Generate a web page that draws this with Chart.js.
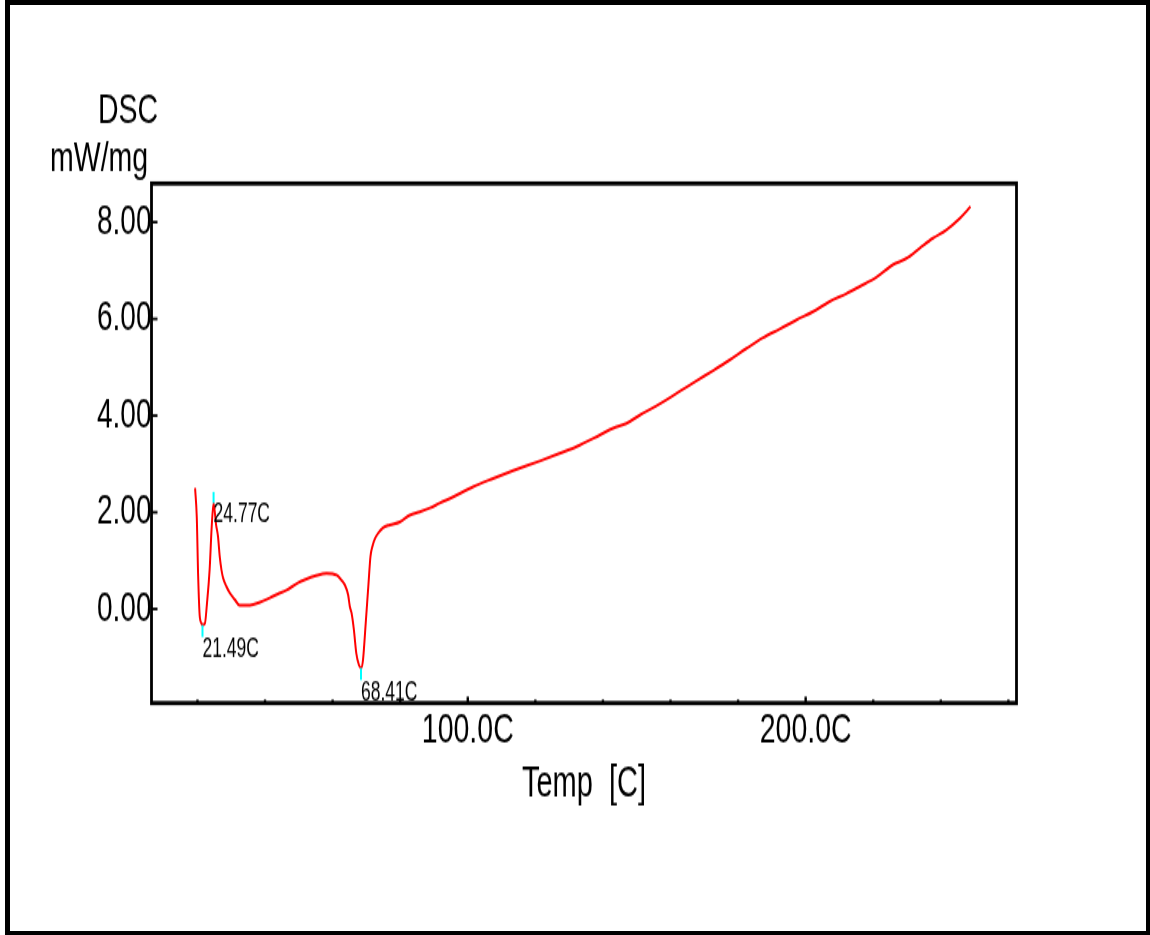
<!DOCTYPE html>
<html>
<head>
<meta charset="utf-8">
<title>DSC</title>
<script src="https://cdn.jsdelivr.net/npm/chart.js@4.4.1/dist/chart.umd.min.js"></script>
<style>
    html, body { margin: 0; padding: 0; background: #fff; overflow: hidden; }
    .moldura {
        position: absolute; left: 5px; top: 0; width: 1145px; height: 935px;
        box-sizing: border-box; border-style: solid; border-color: #000;
        border-width: 5px 4px 4px 5px;
    }
    /* a imagem original é esticada na vertical */
    #graficoDSC { position: absolute; left: 0; top: 0; transform: scaleY(1.5); transform-origin: 0 0; }
</style>
</head>
<body>
<div class="moldura"></div>
<canvas id="graficoDSC" width="1150" height="623"></canvas>
<script>
// ========== DADOS ==========

// Temperatura (C)
const temps = [19.3, 19.8, 20.2, 20.7, 21.2, 21.49, 22.2, 22.8, 23.6, 24.2, 24.77, 25.5, 26.1, 26.6, 27.1,
    27.6, 28.6, 29.6, 31.1, 32.5, 35.5, 38.5, 41.4, 43.8, 46.4, 49.7, 52.3, 54.7, 58.2, 61.2, 62.6, 63.6,
    64.6, 65.1, 65.6, 66.3, 67.0, 67.8, 68.41, 69.0, 69.8, 70.6, 71.2, 71.8, 72.5, 73.5, 74.9, 76.9, 79.9,
    82.8, 85.8, 88.8, 91.7, 95.7, 101.6, 107.5, 113.4, 121.3, 127.2, 132.2, 139.1, 143.0, 147.0, 150.9,
    155.8, 162.7, 167.7, 172.6, 177.5, 182.5, 187.4, 192.3, 197.3, 202.2, 207.1, 212.0, 216.0, 220.9,
    225.8, 229.8, 233.7, 237.7, 241.6, 245.6, 248.8];

// DSC (mW/mg)
const dsc = [2.50, 1.90, 0.70, -0.17, -0.30, -0.33, -0.30, 0.10, 0.81, 1.68, 2.19, 1.75, 1.49, 1.08, 0.81,
    0.64, 0.46, 0.33, 0.19, 0.08, 0.08, 0.14, 0.23, 0.31, 0.39, 0.54, 0.62, 0.68, 0.74, 0.70, 0.60, 0.50,
    0.29, 0.05, -0.08, -0.43, -0.91, -1.16, -1.22, -1.05, -0.29, 0.50, 1.08, 1.30, 1.45, 1.57, 1.68, 1.74,
    1.80, 1.94, 2.01, 2.09, 2.19, 2.32, 2.53, 2.70, 2.86, 3.06, 3.22, 3.36, 3.60, 3.74, 3.84, 4.01, 4.20,
    4.50, 4.72, 4.93, 5.15, 5.39, 5.61, 5.79, 5.98, 6.15, 6.36, 6.52, 6.67, 6.86, 7.12, 7.25, 7.46, 7.67,
    7.84, 8.08, 8.32];

// Picos marcados
const picoTemps = [21.49, 24.77, 68.41];
const picoValores = [-0.33, 2.19, -1.22];
const picoTipos = ['min', 'max', 'min'];
const picoRotulos = ['21.49C', '24.77C', '68.41C'];

// Eixos
const xTicks = [20, 40, 60, 80, 100, 120, 140, 160, 180, 200, 220, 240, 260];
const xRotulos = [100, 200];
const yTicks = [0, 2, 4, 6, 8];

const FONTE = '"Liberation Sans", Arial, sans-serif';

// ========== PLUGIN: moldura, ticks internos, picos e títulos ==========

const molduraDSC = {
    id: 'molduraDSC',
    afterDatasetsDraw(chart) {
        const { ctx, chartArea: a, scales: { x, y } } = chart;
        ctx.save();

        // marcadores ciano + rótulos dos picos
        picoTemps.forEach((t, i) => {
            const px = x.getPixelForValue(t), py = y.getPixelForValue(picoValores[i]);
            const max = picoTipos[i] === 'max';
            ctx.strokeStyle = '#00ffff';
            ctx.lineWidth = 2;
            ctx.beginPath();
            ctx.moveTo(px, py);
            ctx.lineTo(px, py + (max ? -7.5 : 8));
            ctx.stroke();
            ctx.fillStyle = '#000';
            ctx.font = `17.5px ${FONTE}`;
            ctx.textAlign = 'left';
            ctx.textBaseline = 'alphabetic';
            ctx.fillText(picoRotulos[i], px, py + (max ? 13 : 21.3));
        });

        // moldura do gráfico
        ctx.strokeStyle = '#000';
        ctx.lineWidth = 2.8;
        ctx.strokeRect(a.left, a.top, a.right - a.left, a.bottom - a.top);

        // ticks para dentro
        ctx.fillStyle = '#000';
        y.ticks.forEach(t => {
            const py = y.getPixelForValue(t.value);
            ctx.fillRect(a.left, py - 0.9, 6, 1.8);
        });
        x.ticks.forEach(t => {
            const px = x.getPixelForValue(t.value);
            const len = xRotulos.includes(t.value) ? 4.3 : 2.3;
            ctx.fillRect(px - 1.2, a.bottom - len, 2.4, len);
        });

        // título do eixo Y
        ctx.font = `28.5px ${FONTE}`;
        ctx.textAlign = 'left';
        ctx.textBaseline = 'alphabetic';
        ctx.fillText('DSC', 98, 82);
        ctx.fillText('mW/mg', 50, 114.3);

        ctx.restore();
    }
};

// ========== GRÁFICO ==========

new Chart(document.getElementById('graficoDSC'), {
    type: 'line',
    data: {
        datasets: [{
            data: temps.map((t, i) => ({ x: t, y: dsc[i] })),
            borderColor: '#ff0000',
            borderWidth: 2,
            pointRadius: 0,
            fill: false,
            cubicInterpolationMode: 'monotone'
        }]
    },
    options: {
        responsive: false,
        animation: false,
        devicePixelRatio: 1,
        layout: { padding: { top: 122.33, right: 133.5, bottom: 82.9, left: 0 } },
        plugins: { legend: { display: false }, tooltip: { enabled: false } },
        scales: {
            x: {
                type: 'linear',
                min: 6.4,
                max: 262.4,
                grid: { display: false, drawTicks: false },
                border: { display: false },
                afterBuildTicks: s => { s.ticks = xTicks.map(v => ({ value: v })); },
                afterFit: s => { s.height = 71.4; },
                ticks: {
                    autoSkip: false, maxRotation: 0, padding: 1, color: '#000',
                    font: { family: FONTE, size: 28.5 },
                    callback: v => xRotulos.includes(v) ? v.toFixed(1) + 'C' : ''
                },
                title: { display: true, text: 'Temp  [C]', color: '#000', font: { family: FONTE, size: 29 }, padding: 0 }
            },
            y: {
                type: 'linear',
                min: -1.945,
                max: 8.80,
                grid: { display: false, drawTicks: false },
                border: { display: false },
                afterBuildTicks: s => { s.ticks = yTicks.map(v => ({ value: v })); },
                afterFit: s => { s.width = 151.5; },
                ticks: {
                    padding: 0, color: '#000',
                    font: { family: FONTE, size: 28 },
                    callback: v => v.toFixed(2)
                }
            }
        }
    },
    plugins: [molduraDSC]
});
</script>
</body>
</html>
